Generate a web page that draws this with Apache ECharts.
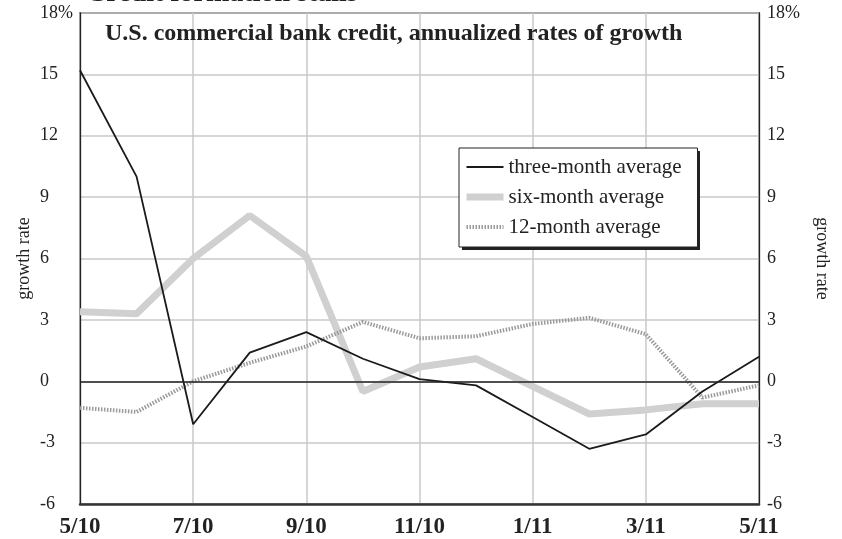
<!DOCTYPE html>
<html><head><meta charset="utf-8">
<script src="https://cdn.jsdelivr.net/npm/echarts@6/dist/echarts.min.js"></script>
<style>html,body{margin:0;padding:0;background:#fff}#c{width:842px;height:539px}</style>
</head><body><div id="c"></div>
<script>
var months = ['5/10','6/10','7/10','8/10','9/10','10/10','11/10','12/10','1/11','2/11','3/11','4/11','5/11'];
var threeMonth = [15.2, 10.0, -2.1, 1.4, 2.4, 1.1, 0.1, -0.2, -1.75, -3.3, -2.6, -0.5, 1.2];
var sixMonth = [3.4, 3.3, 6.0, 8.1, 6.1, -0.5, 0.7, 1.1, -0.25, -1.6, -1.4, -1.1, -1.1];
var twelveMonth = [-1.3, -1.5, 0.0, 0.9, 1.7, 2.9, 2.1, 2.2, 2.8, 3.1, 2.3, -0.8, -0.2];
var seriesNames = ['three-month average', 'six-month average', '12-month average'];
var yTop = 18, yBottom = -6, yStep = 3;
var chartTitle = 'Credit formation stalls';
var chartSubtitle = 'U.S. commercial bank credit, annualized rates of growth';
var yName = 'growth rate';

var FONT = "'Liberation Serif','DejaVu Serif',serif";
var chart = echarts.init(document.getElementById('c'));
function yFmt(v){ return v === yTop ? v + '%' : String(v); }
var yCommon = {
  type: 'value', min: yBottom, max: yTop, interval: yStep,
  name: yName, nameLocation: 'middle', nameMoveOverlap: false,
  nameTextStyle: {fontFamily: FONT, fontSize: 18, color: '#222'},
  axisLine: {show: true, lineStyle: {color: '#222', width: 1.3}},
  axisTick: {show: false},
  splitLine: {show: true, lineStyle: {color: '#c8c8c8', width: 1.5}},
  axisLabel: {formatter: yFmt, fontFamily: FONT, fontSize: 18, color: '#222', align: 'left'}
};
var yLeft = echarts.util.merge(echarts.util.clone(yCommon), {position: 'left', nameGap: 47, nameRotate: 90, axisLabel: {margin: 40}}, true);
var yRight = echarts.util.merge(echarts.util.clone(yCommon), {position: 'right', nameGap: 54, nameRotate: -90, axisLabel: {margin: 8}, splitLine: {show: false}}, true);

chart.setOption({
  animation: false,
  backgroundColor: '#fff',
  title: [
    {text: chartSubtitle, left: 105, top: 22, padding: 0,
     textStyle: {fontFamily: FONT, fontSize: 24, fontWeight: 'bold', color: '#222'}}
  ],
  graphic: [
    {type: 'text', x: 86, y: -6, silent: true,
     style: {text: chartTitle, font: "bold 28px 'Liberation Serif', serif", fill: '#222', verticalAlign: 'middle', align: 'left'}},
    {type: 'rect', silent: true, z: 1,
     shape: {x: 462, y: 151, width: 238, height: 99}, style: {fill: '#222'}}
  ],
  grid: {left: 80, right: 83, top: 13, bottom: 34, show: true, borderColor: '#222', borderWidth: 1.3, backgroundColor: 'transparent'},
  legend: {
    data: [
      {name: seriesNames[0], lineStyle: {width: 2}},
      {name: seriesNames[1], lineStyle: {width: 7}},
      {name: seriesNames[2], lineStyle: {width: 4}}
    ],
    orient: 'vertical', left: 459, top: 148, z: 5,
    backgroundColor: '#fff', borderColor: '#222', borderWidth: 1,
    padding: [8, 13, 9, 4], itemGap: 8, itemWidth: 37, itemHeight: 14,
    itemStyle: {opacity: 0},
    textStyle: {fontFamily: FONT, fontSize: 21, color: '#222', lineHeight: 22, width: 176}
  },
  xAxis: {
    type: 'category', data: months, boundaryGap: false,
    axisLine: {show: true, onZero: false, lineStyle: {color: '#333', width: 2.5}},
    axisTick: {show: false},
    axisLabel: {interval: 1, margin: 12, fontFamily: FONT, fontSize: 23, fontWeight: 'bold', color: '#222'},
    splitLine: {show: true, interval: 1, lineStyle: {color: '#c8c8c8', width: 1.5}}
  },
  yAxis: [yLeft, yRight],
  series: [
    {name: seriesNames[1], type: 'line', data: sixMonth, symbol: 'none', z: 2,
     lineStyle: {color: '#d0d0d0', width: 7}, itemStyle: {color: '#d0d0d0'}},
    {name: seriesNames[2], type: 'line', data: twelveMonth, symbol: 'none', z: 3,
     lineStyle: {color: '#9a9a9a', width: 4, type: [1.5, 1.5]}, itemStyle: {color: '#9a9a9a'},
     markLine: {silent: true, symbol: 'none', label: {show: false},
       lineStyle: {color: '#222', width: 1.5, type: 'solid'}, data: [{yAxis: 0}]}},
    {name: seriesNames[0], type: 'line', data: threeMonth, symbol: 'none', z: 4,
     lineStyle: {color: '#1a1a1a', width: 1.8}, itemStyle: {color: '#1a1a1a'}}
  ]
});
</script></body></html>
